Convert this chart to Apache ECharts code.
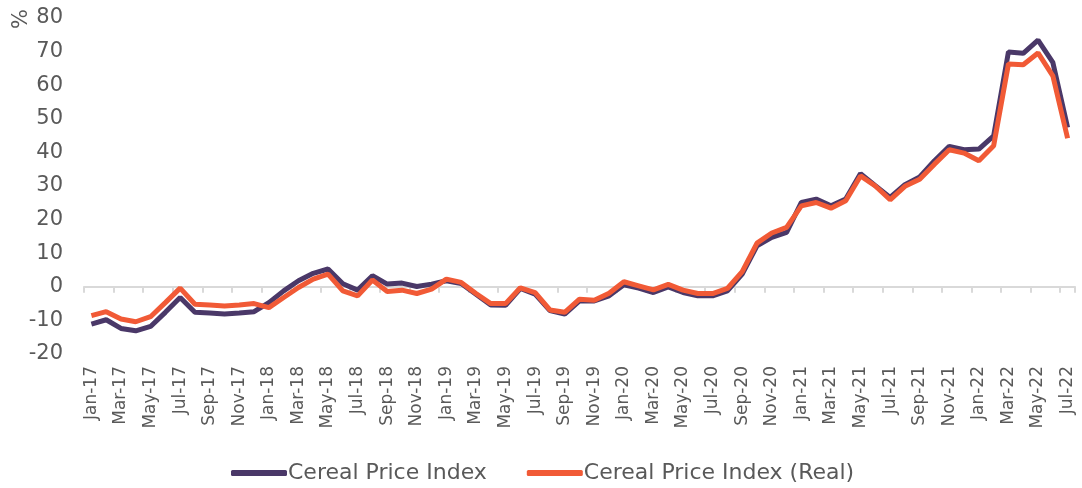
<!DOCTYPE html>
<html>
<head>
<meta charset="utf-8">
<script src="https://cdn.jsdelivr.net/npm/echarts@6/dist/echarts.min.js"></script>
<style>
html, body { margin: 0; padding: 0; background: #fff; }
#chart { width: 1082px; height: 488px; }
</style>
</head>
<body>
<div id="chart"></div>
<script>
var months = ['Jan','Feb','Mar','Apr','May','Jun','Jul','Aug','Sep','Oct','Nov','Dec'];
var years = ['17','18','19','20','21','22'];
var categories = [];
years.forEach(function (y) {
    months.forEach(function (m) { categories.push(m + '-' + y); });
});
categories = categories.slice(0, 67); // Jan-17 .. Jul-22

var cerealIndex = [
    -11.1, -9.8, -12.4, -13.1, -11.8, -7.6, -3.2, -7.6, -7.8, -8.1, -7.8, -7.4,
    -4.7, -1.2, 1.8, 4.0, 5.3, 0.9, -1.0, 3.3, 0.8, 1.1, 0.1, 0.8,
    1.8, 1.0, -2.2, -5.4, -5.5, -0.5, -2.2, -7.1, -8.1, -4.2, -4.2, -2.7,
    0.6, -0.4, -1.7, 0.0, -1.7, -2.7, -2.7, -1.2, 3.8, 12.2, 14.7, 16.2,
    25.1, 26.1, 24.1, 26.1, 33.7, 30.1, 26.6, 30.4, 32.7, 37.5, 41.8, 40.8,
    41.0, 44.9, 69.9, 69.5, 73.4, 66.8, 47.4
];
var cerealIndexReal = [
    -8.6, -7.4, -9.6, -10.4, -8.9, -4.7, -0.4, -5.2, -5.4, -5.7, -5.4, -5.0,
    -6.2, -3.2, -0.2, 2.3, 3.8, -1.2, -2.7, 2.0, -1.4, -1.0, -2.0, -0.7,
    2.3, 1.3, -2.0, -5.0, -5.0, -0.3, -1.7, -6.9, -7.6, -3.7, -4.0, -1.9,
    1.5, 0.3, -0.9, 0.7, -1.0, -2.0, -2.0, -0.5, 4.5, 13.0, 16.0, 17.7,
    24.1, 25.1, 23.4, 25.6, 33.0, 30.0, 25.9, 29.9, 32.0, 36.5, 40.8, 39.8,
    37.5, 42.0, 66.3, 66.1, 69.6, 62.8, 44.2
];
var yTicks = { min: -20, max: 80, step: 10 };

var purple = '#4a3868';
var orange = '#f15a36';
var grey = '#595959';
var font = 'DejaVu Sans';

var myChart = echarts.init(document.getElementById('chart'));
var option = {
    animation: false,
    textStyle: { fontFamily: font },
    grid: { left: 84, right: 7, top: 18, bottom: 134 },
    graphic: [{
        type: 'text',
        left: 11,
        top: 9,
        rotation: Math.PI / 2,
        style: { text: '%', font: '21px "DejaVu Sans"', fill: grey }
    }],
    legend: {
        left: 226,
        top: 457,
        itemGap: 40,
        itemWidth: 56,
        itemHeight: 6,
        icon: 'roundRect',
        textStyle: { fontSize: 22, color: grey, fontFamily: font, padding: [0, 0, 0, -4] },
        data: ['Cereal Price Index', 'Cereal Price Index (Real)']
    },
    xAxis: [
        {
            type: 'category',
            data: categories,
            boundaryGap: true,
            axisLine: { show: false, onZero: false },
            axisTick: { show: false },
            axisLabel: {
                interval: 1,
                rotate: 90,
                margin: 12,
                fontSize: 17,
                color: grey,
                fontFamily: font
            }
        },
        {
            type: 'category',
            data: categories,
            boundaryGap: true,
            position: 'bottom',
            axisLine: { show: true, onZero: true, lineStyle: { color: '#d9d9d9', width: 2 } },
            axisTick: { show: true, interval: 1, length: 6, lineStyle: { color: '#d9d9d9', width: 2 } },
            axisLabel: { show: false }
        }
    ],
    yAxis: {
        type: 'value',
        min: yTicks.min,
        max: yTicks.max,
        interval: yTicks.step,
        axisLine: { show: false },
        axisTick: { show: false },
        splitLine: { show: false },
        axisLabel: { fontSize: 21, color: grey, margin: 21, fontFamily: font }
    },
    series: [
        {
            name: 'Cereal Price Index',
            type: 'line',
            xAxisIndex: 0,
            data: cerealIndex,
            showSymbol: false,
            itemStyle: { color: purple },
            lineStyle: { color: purple, width: 5 }
        },
        {
            name: 'Cereal Price Index (Real)',
            type: 'line',
            xAxisIndex: 0,
            data: cerealIndexReal,
            showSymbol: false,
            itemStyle: { color: orange },
            lineStyle: { color: orange, width: 5 }
        }
    ]
};
myChart.setOption(option);
</script>
</body>
</html>
